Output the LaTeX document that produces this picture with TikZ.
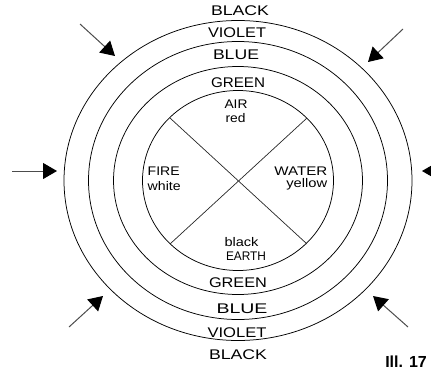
\documentclass[tikz,border=0pt]{standalone}
\usepackage{fontspec}
\setmainfont{Liberation Sans}
\usetikzlibrary{arrows.meta}
\newcommand{\lblfit}[2]{\resizebox{#1pt}{\height}{#2}}
\begin{document}
\begin{tikzpicture}[x=1pt,y=-1pt,
  ring/.style={line width=0.75pt, black},
  crossline/.style={line width=0.7pt, black!85},
  pointer/.style={line width=1pt, black!70, -{Triangle[length=14pt,width=16pt,color=black]}},
  ringlbl/.style={inner sep=0pt, anchor=base, font=\fontsize{14}{14}\selectfont},
  innerlbl/.style={inner sep=0pt, font=\fontsize{12.5}{12.5}\selectfont},
  figlbl/.style={inner sep=0pt, anchor=base east, font=\fontsize{16}{16}\selectfont\bfseries},
]
\useasboundingbox (0,0) rectangle (431,378);
\clip (0,0) rectangle (431,378);

% rings
\draw[ring] (238,180.5) ellipse [x radius=174pt, y radius=160pt];
\draw[ring] (238,180.5) ellipse [x radius=149.5pt, y radius=139pt];
\draw[ring] (238,180.5) ellipse [x radius=124.5pt, y radius=114pt];
\draw[ring] (238,180.5) ellipse [x radius=95.5pt, y radius=90pt];

% cross
\coordinate (ul) at (170,118);
\coordinate (lr) at (307,244);
\coordinate (ur) at (307,118);
\coordinate (ll) at (170,244);
\draw[crossline] (ul) -- (lr);
\draw[crossline] (ur) -- (ll);

% ring labels top
\node[ringlbl] (tblack)  at (240,15) {\lblfit{58}{BLACK}};
\node[ringlbl] (tviolet) at (237,37) {\lblfit{58}{VIOLET}};
\node[ringlbl] (tblue)   at (236,59) {\lblfit{46}{BLUE}};
\node[ringlbl] (tgreen)  at (238,87) {\lblfit{54}{GREEN}};
% ring labels bottom
\node[ringlbl] (bgreen)  at (238,287) {\lblfit{58}{GREEN}};
\node[ringlbl] (bblue)   at (242,313) {\lblfit{51}{BLUE}};
\node[ringlbl] (bviolet) at (237,337) {\lblfit{59}{VIOLET}};
\node[ringlbl] (bblack)  at (238,359) {\lblfit{58}{BLACK}};

% inner labels
\node[innerlbl, anchor=base] (air) at (236,108.5) {\lblfit{23}{AIR}};
\node[innerlbl, anchor=base] (red) at (235.5,122) {\lblfit{20}{red}};
\node[innerlbl, anchor=base west] (fire) at (147.5,175) {\lblfit{32}{FIRE}};
\node[innerlbl, anchor=base west] (white) at (147.5,190) {\lblfit{33}{white}};
\node[innerlbl, anchor=base east] (water) at (327.5,175) {\lblfit{53}{WATER}};
\node[innerlbl, anchor=base east] (yellow) at (327.5,187.5) {\lblfit{41}{yellow}};
\node[innerlbl, anchor=base] (blk) at (241.5,246) {\lblfit{34}{black}};
\node[innerlbl, anchor=base] (earth) at (246,260) {\lblfit{40}{EARTH}};

% arrows
\coordinate (s1) at (80,24);   \coordinate (t1) at (115,56);
\coordinate (s2) at (403,29);  \coordinate (t2) at (368,62);
\coordinate (s3) at (12,171);  \coordinate (t3) at (57,171);
\coordinate (s4) at (450,171); \coordinate (t4) at (422,171);
\coordinate (s5) at (69,327);  \coordinate (t5) at (103,296);
\coordinate (s6) at (408,327); \coordinate (t6) at (373,296);
\draw[pointer] (s1) -- (t1);
\draw[pointer] (s2) -- (t2);
\draw[pointer] (s3) -- (t3);
\draw[pointer] (s4) -- (t4);
\draw[pointer] (s5) -- (t5);
\draw[pointer] (s6) -- (t6);

% figure label
\node[figlbl] (ill) at (427,367) {Ill. 17};
\end{tikzpicture}
\end{document}
